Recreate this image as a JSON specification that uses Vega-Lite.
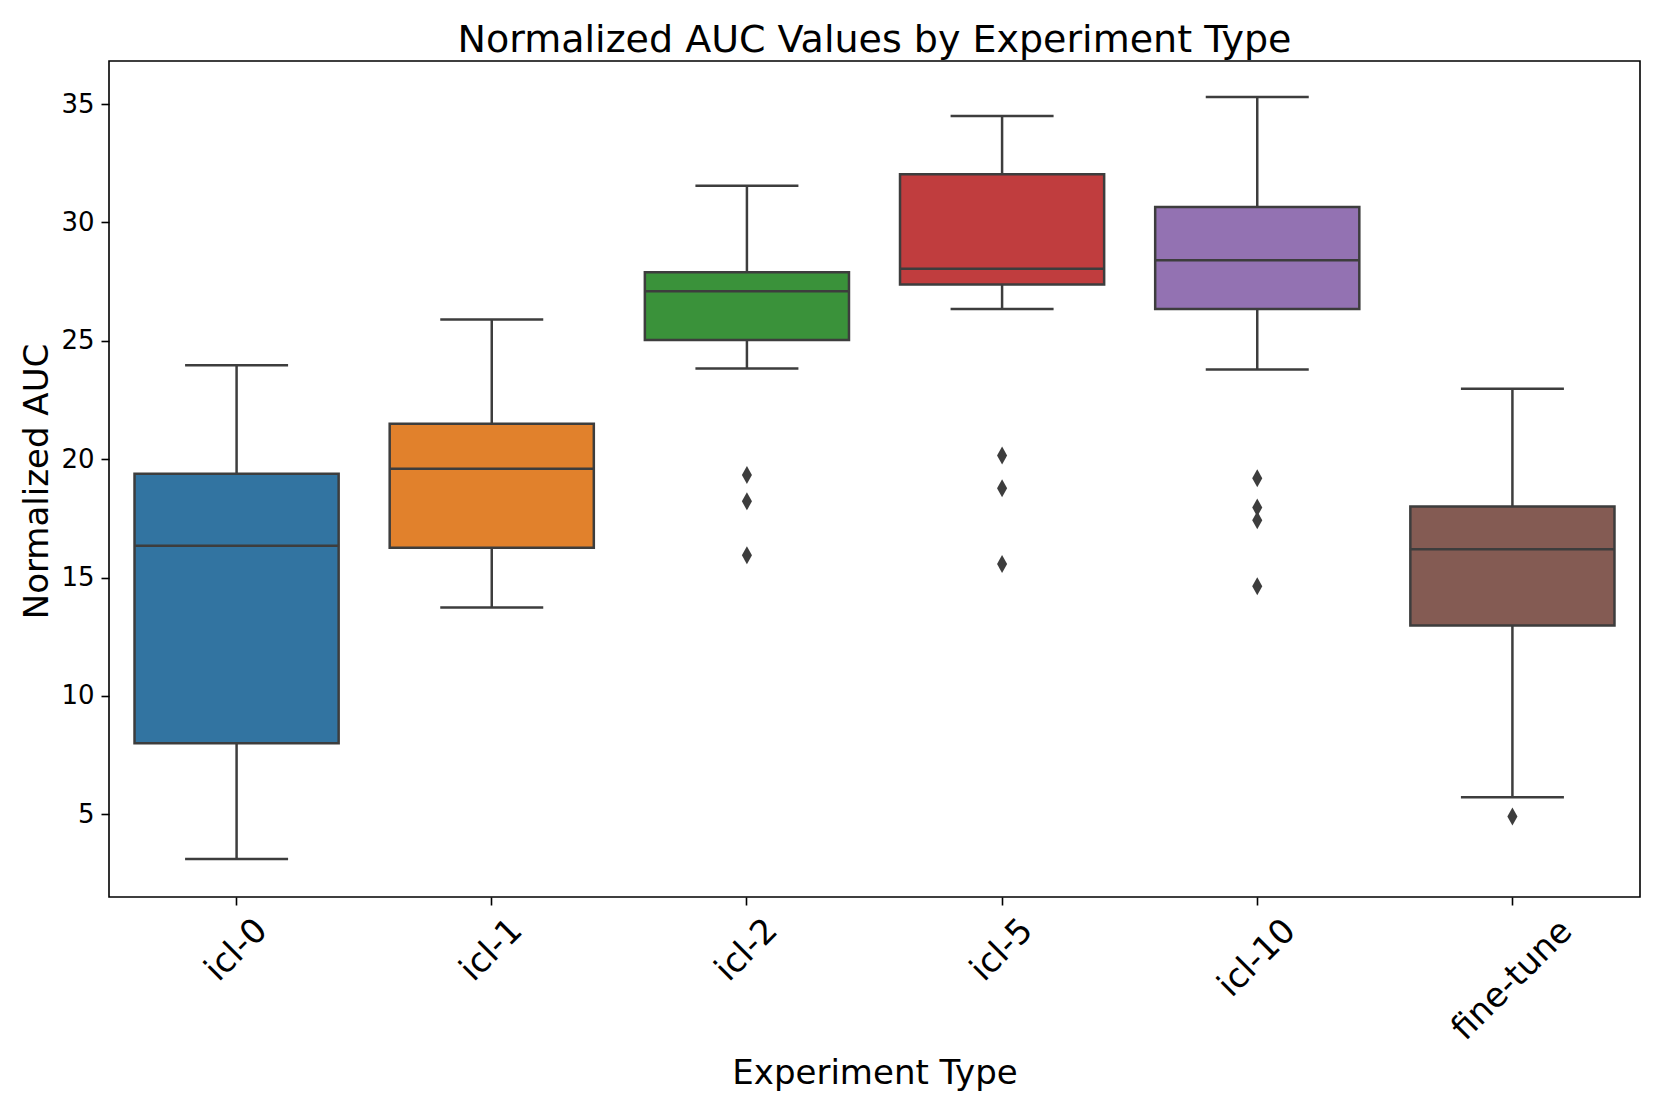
{
  "$schema": "https://vega.github.io/schema/vega-lite/v6.json",
  "width": 1531,
  "height": 836,
  "autosize": "none",
  "padding": {"left": 109, "top": 61, "right": 21, "bottom": 210},
  "background": "white",
  "config": {
    "font": "DejaVu Sans",
    "view": {"stroke": "#000000", "strokeWidth": 1.6},
    "axis": {
      "domain": false,
      "grid": false,
      "tickColor": "#000000",
      "tickWidth": 1.6,
      "tickSize": 8,
      "labelColor": "#000000",
      "titleColor": "#000000",
      "labelFont": "DejaVu Sans",
      "titleFont": "DejaVu Sans",
      "titleFontWeight": "normal"
    }
  },
  "title": {
    "text": "Normalized AUC Values by Experiment Type",
    "fontSize": 38,
    "fontWeight": "normal",
    "font": "DejaVu Sans",
    "color": "#000000",
    "anchor": "middle",
    "baseline": "alphabetic",
    "frame": "group",
    "offset": 11,
    "dy": 40
  },
  "datasets": {
    "boxes": [
      {"type": "icl-0", "min": 3.12, "q1": 8.0, "median": 16.35, "q3": 19.39, "max": 23.97},
      {"type": "icl-1", "min": 13.74, "q1": 16.26, "median": 19.6, "q3": 21.5, "max": 25.9},
      {"type": "icl-2", "min": 23.83, "q1": 25.04, "median": 27.1, "q3": 27.9, "max": 31.55},
      {"type": "icl-5", "min": 26.35, "q1": 27.38, "median": 28.05, "q3": 32.04, "max": 34.5},
      {"type": "icl-10", "min": 23.79, "q1": 26.35, "median": 28.4, "q3": 30.65, "max": 35.3},
      {"type": "fine-tune", "min": 5.72, "q1": 12.98, "median": 16.2, "q3": 18.0, "max": 22.98}
    ],
    "outliers": [
      {"type": "icl-2", "value": 19.33},
      {"type": "icl-2", "value": 18.22},
      {"type": "icl-2", "value": 15.94},
      {"type": "icl-5", "value": 20.16},
      {"type": "icl-5", "value": 18.77},
      {"type": "icl-5", "value": 15.58},
      {"type": "icl-10", "value": 19.2},
      {"type": "icl-10", "value": 17.96},
      {"type": "icl-10", "value": 17.42},
      {"type": "icl-10", "value": 14.64},
      {"type": "fine-tune", "value": 4.91}
    ]
  },
  "encoding": {
    "x": {
      "field": "type",
      "type": "nominal",
      "sort": ["icl-0", "icl-1", "icl-2", "icl-5", "icl-10", "fine-tune"],
      "scale": {"domain": ["icl-0", "icl-1", "icl-2", "icl-5", "icl-10", "fine-tune"], "paddingInner": 0, "paddingOuter": 0},
      "axis": {
        "title": "Experiment Type",
        "titleFontSize": 34,
        "titleY": 186,
        "titleBaseline": "alphabetic",
        "labelFontSize": 34,
        "labelAngle": -45,
        "labelAlign": "center",
        "labelBaseline": "middle",
        "labelPadding": {"condition": [{"test": "datum.value === 'fine-tune'", "value": 75}, {"test": "datum.value === 'icl-10'", "value": 53}], "value": 45}
      }
    }
  },
  "layer": [
    {
      "data": {"name": "boxes"},
      "mark": {"type": "rule", "color": "#3d3d3d", "strokeWidth": 2.5},
      "encoding": {
        "y": {"field": "min", "type": "quantitative", "title": "Normalized AUC", "scale": {"domain": [1.51, 36.82], "nice": false, "zero": false},
          "axis": {"values": [5, 10, 15, 20, 25, 30, 35], "titleFontSize": 34, "titleX": -62, "titleY": 420, "titleAlign": "center", "titleBaseline": "alphabetic", "labelFontSize": 26, "labelPadding": 7}},
        "y2": {"field": "q1"}
      }
    },
    {
      "data": {"name": "boxes"},
      "mark": {"type": "rule", "color": "#3d3d3d", "strokeWidth": 2.5},
      "encoding": {
        "y": {"field": "q3", "type": "quantitative", "title": "Normalized AUC", "scale": {"domain": [1.51, 36.82], "nice": false, "zero": false},
          "axis": {"values": [5, 10, 15, 20, 25, 30, 35], "titleFontSize": 34, "titleX": -62, "titleY": 420, "titleAlign": "center", "titleBaseline": "alphabetic", "labelFontSize": 26, "labelPadding": 7}},
        "y2": {"field": "max"}
      }
    },
    {
      "data": {"name": "boxes"},
      "mark": {"type": "tick", "color": "#3d3d3d", "size": 103, "thickness": 2.5, "opacity": 1},
      "encoding": {
        "y": {"field": "min", "type": "quantitative", "title": "Normalized AUC", "scale": {"domain": [1.51, 36.82], "nice": false, "zero": false},
          "axis": {"values": [5, 10, 15, 20, 25, 30, 35], "titleFontSize": 34, "titleX": -62, "titleY": 420, "titleAlign": "center", "titleBaseline": "alphabetic", "labelFontSize": 26, "labelPadding": 7}}
      }
    },
    {
      "data": {"name": "boxes"},
      "mark": {"type": "tick", "color": "#3d3d3d", "size": 103, "thickness": 2.5, "opacity": 1},
      "encoding": {
        "y": {"field": "max", "type": "quantitative", "title": "Normalized AUC", "scale": {"domain": [1.51, 36.82], "nice": false, "zero": false},
          "axis": {"values": [5, 10, 15, 20, 25, 30, 35], "titleFontSize": 34, "titleX": -62, "titleY": 420, "titleAlign": "center", "titleBaseline": "alphabetic", "labelFontSize": 26, "labelPadding": 7}}
      }
    },
    {
      "data": {"name": "boxes"},
      "mark": {"type": "bar", "width": {"band": 0.8}, "stroke": "#3d3d3d", "strokeWidth": 2.5, "opacity": 1},
      "encoding": {
        "y": {"field": "q1", "type": "quantitative", "title": "Normalized AUC", "scale": {"domain": [1.51, 36.82], "nice": false, "zero": false},
          "axis": {"values": [5, 10, 15, 20, 25, 30, 35], "titleFontSize": 34, "titleX": -62, "titleY": 420, "titleAlign": "center", "titleBaseline": "alphabetic", "labelFontSize": 26, "labelPadding": 7}},
        "y2": {"field": "q3"},
        "color": {
          "field": "type",
          "type": "nominal",
          "scale": {
            "domain": ["icl-0", "icl-1", "icl-2", "icl-5", "icl-10", "fine-tune"],
            "range": ["#3274a1", "#e1812c", "#3a923a", "#c03d3e", "#9372b2", "#845b53"]
          },
          "legend": null
        }
      }
    },
    {
      "data": {"name": "boxes"},
      "mark": {"type": "tick", "color": "#3d3d3d", "size": 205, "thickness": 2.5, "opacity": 1},
      "encoding": {
        "y": {"field": "median", "type": "quantitative", "title": "Normalized AUC", "scale": {"domain": [1.51, 36.82], "nice": false, "zero": false},
          "axis": {"values": [5, 10, 15, 20, 25, 30, 35], "titleFontSize": 34, "titleX": -62, "titleY": 420, "titleAlign": "center", "titleBaseline": "alphabetic", "labelFontSize": 26, "labelPadding": 7}}
      }
    },
    {
      "data": {"name": "outliers"},
      "mark": {"type": "point", "shape": "M0,-1L0.56,0L0,1L-0.56,0Z", "filled": true, "color": "#3d3d3d", "size": 324, "opacity": 1, "strokeWidth": 0},
      "encoding": {
        "y": {"field": "value", "type": "quantitative", "title": "Normalized AUC", "scale": {"domain": [1.51, 36.82], "nice": false, "zero": false},
          "axis": {"values": [5, 10, 15, 20, 25, 30, 35], "titleFontSize": 34, "titleX": -62, "titleY": 420, "titleAlign": "center", "titleBaseline": "alphabetic", "labelFontSize": 26, "labelPadding": 7}}
      }
    }
  ]
}
